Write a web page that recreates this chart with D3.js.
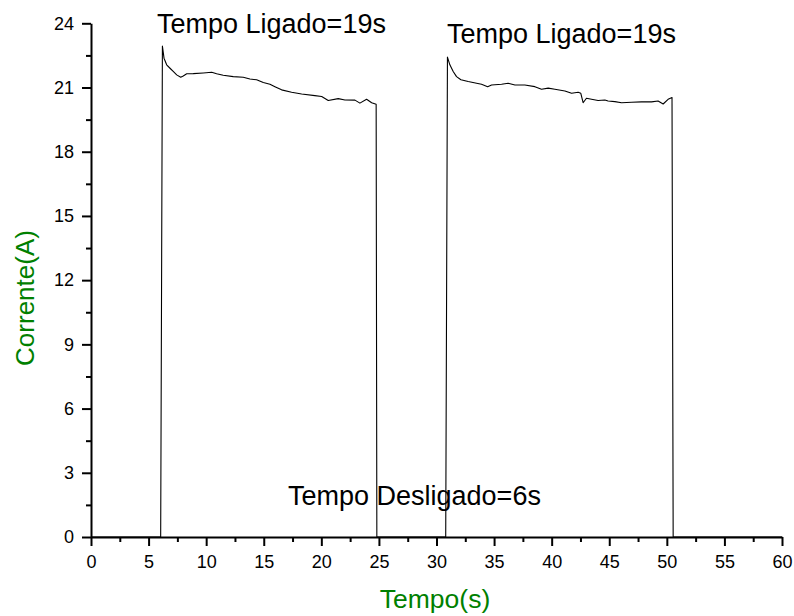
<!DOCTYPE html>
<html>
<head>
<meta charset="utf-8">
<script src="https://cdn.jsdelivr.net/npm/d3@7"></script>
<style>
  html, body { margin: 0; padding: 0; background: #fff; }
  svg { display: block; font-family: "Liberation Sans", Arial, Helvetica, sans-serif; }
</style>
</head>
<body>
<svg id="chart" width="794" height="616"></svg>
<script>
// ---- Data ----
const timeS = [0, 6.05, 6.2, 6.34, 6.57, 6.86, 7.14, 7.44, 7.79, 8.01, 8.31, 8.88, 9.75, 10.48, 10.91, 11.48, 12.35, 13.22, 13.8, 14.38, 14.96, 15.54, 15.97, 16.55, 17.42, 18.29, 19.44, 20.03, 20.6, 21.47, 22.05, 22.92, 23.35, 23.93, 24.37, 24.76, 24.82,
  30.8, 30.95, 31.16, 31.45, 31.74, 32.12, 32.75, 33.48, 33.91, 34.44, 34.78, 35.65, 36.22, 36.81, 37.67, 38.54, 39.12, 39.7, 40.28, 41.15, 41.73, 42.3, 42.53, 42.73, 43.02, 43.46, 44.03, 44.62, 44.9, 45.49, 46.07, 46.94, 47.8, 48.67, 49.24, 49.68, 50.11, 50.45, 50.55, 60];
const currentA = [0, 0, 22.94, 22.37, 22.06, 21.9, 21.75, 21.59, 21.48, 21.54, 21.64, 21.65, 21.68, 21.71, 21.64, 21.57, 21.51, 21.48, 21.4, 21.36, 21.23, 21.15, 21.04, 20.89, 20.78, 20.7, 20.62, 20.58, 20.39, 20.48, 20.42, 20.41, 20.27, 20.45, 20.29, 20.22, 0,
  0, 22.42, 22.06, 21.75, 21.51, 21.36, 21.28, 21.2, 21.15, 21.04, 21.12, 21.15, 21.2, 21.12, 21.12, 21.04, 20.92, 20.97, 20.92, 20.84, 20.73, 20.78, 20.73, 20.29, 20.5, 20.45, 20.39, 20.42, 20.37, 20.34, 20.29, 20.31, 20.33, 20.33, 20.37, 20.23, 20.45, 20.53, 0, 0];

const xMajorTicks = [0, 5, 10, 15, 20, 25, 30, 35, 40, 45, 50, 55, 60];
const xMinorTicks = [2.5, 7.5, 12.5, 17.5, 22.5, 27.5, 32.5, 37.5, 42.5, 47.5, 52.5, 57.5];
const yMajorTicks = [0, 3, 6, 9, 12, 15, 18, 21, 24];
const yMinorTicks = [1.5, 4.5, 7.5, 10.5, 13.5, 16.5, 19.5, 22.5];

const xTitle = "Tempo(s)";
const yTitle = "Corrente(A)";
const annotations = [
  { text: "Tempo Ligado=19s", x: 157, y: 33 },
  { text: "Tempo Ligado=19s", x: 447, y: 43 },
  { text: "Tempo Desligado=6s", x: 288, y: 505 }
];

// ---- Layout ----
const svg = d3.select("#chart");
const x = d3.scaleLinear().domain([0, 60]).range([91, 782]);
const y = d3.scaleLinear().domain([0, 24]).range([537, 23.3]);

// Line
const line = d3.line().x((d, i) => x(timeS[i])).y((d, i) => y(currentA[i]));
svg.append("path")
  .datum(currentA)
  .attr("d", line)
  .attr("fill", "none")
  .attr("stroke", "#000")
  .attr("stroke-width", 1.1)
  .attr("stroke-linejoin", "round");

function styleAxis(g) {
  g.selectAll(".domain").attr("stroke", "#000").attr("stroke-width", 2);
  g.selectAll(".tick line").attr("stroke", "#000").attr("stroke-width", 2);
  g.selectAll(".tick text").attr("fill", "#000").style("font-size", "18px");
}

// X axis
const gx = svg.append("g").attr("transform", `translate(0,${y(0)})`)
  .call(d3.axisBottom(x).tickValues(xMajorTicks).tickSize(9).tickPadding(9).tickSizeOuter(0).tickFormat(d3.format("d")));
styleAxis(gx);
const gxm = svg.append("g").attr("transform", `translate(0,${y(0)})`)
  .call(d3.axisBottom(x).tickValues(xMinorTicks).tickSize(5).tickFormat(""));
gxm.select(".domain").remove();
styleAxis(gxm);

// Y axis
const gy = svg.append("g").attr("transform", `translate(${x(0)},0)`)
  .call(d3.axisLeft(y).tickValues(yMajorTicks).tickSize(9).tickPadding(8).tickSizeOuter(0).tickFormat(d3.format("d")));
styleAxis(gy);
const gym = svg.append("g").attr("transform", `translate(${x(0)},0)`)
  .call(d3.axisLeft(y).tickValues(yMinorTicks).tickSize(5).tickFormat(""));
gym.select(".domain").remove();
styleAxis(gym);

// Axis titles
svg.append("text")
  .attr("x", (x(0) + x(60)) / 2 - 1.5)
  .attr("y", 608)
  .attr("text-anchor", "middle")
  .attr("fill", "#008000")
  .style("font-size", "26.5px")
  .text(xTitle);

svg.append("text")
  .attr("transform", `translate(34,298) rotate(-90)`)
  .attr("text-anchor", "middle")
  .attr("fill", "#008000")
  .style("font-size", "26px")
  .text(yTitle);

// Annotations
svg.selectAll("text.annot")
  .data(annotations)
  .enter().append("text")
  .attr("class", "annot")
  .attr("x", d => d.x)
  .attr("y", d => d.y)
  .attr("fill", "#000")
  .style("font-size", "27px")
  .text(d => d.text);
</script>
</body>
</html>
